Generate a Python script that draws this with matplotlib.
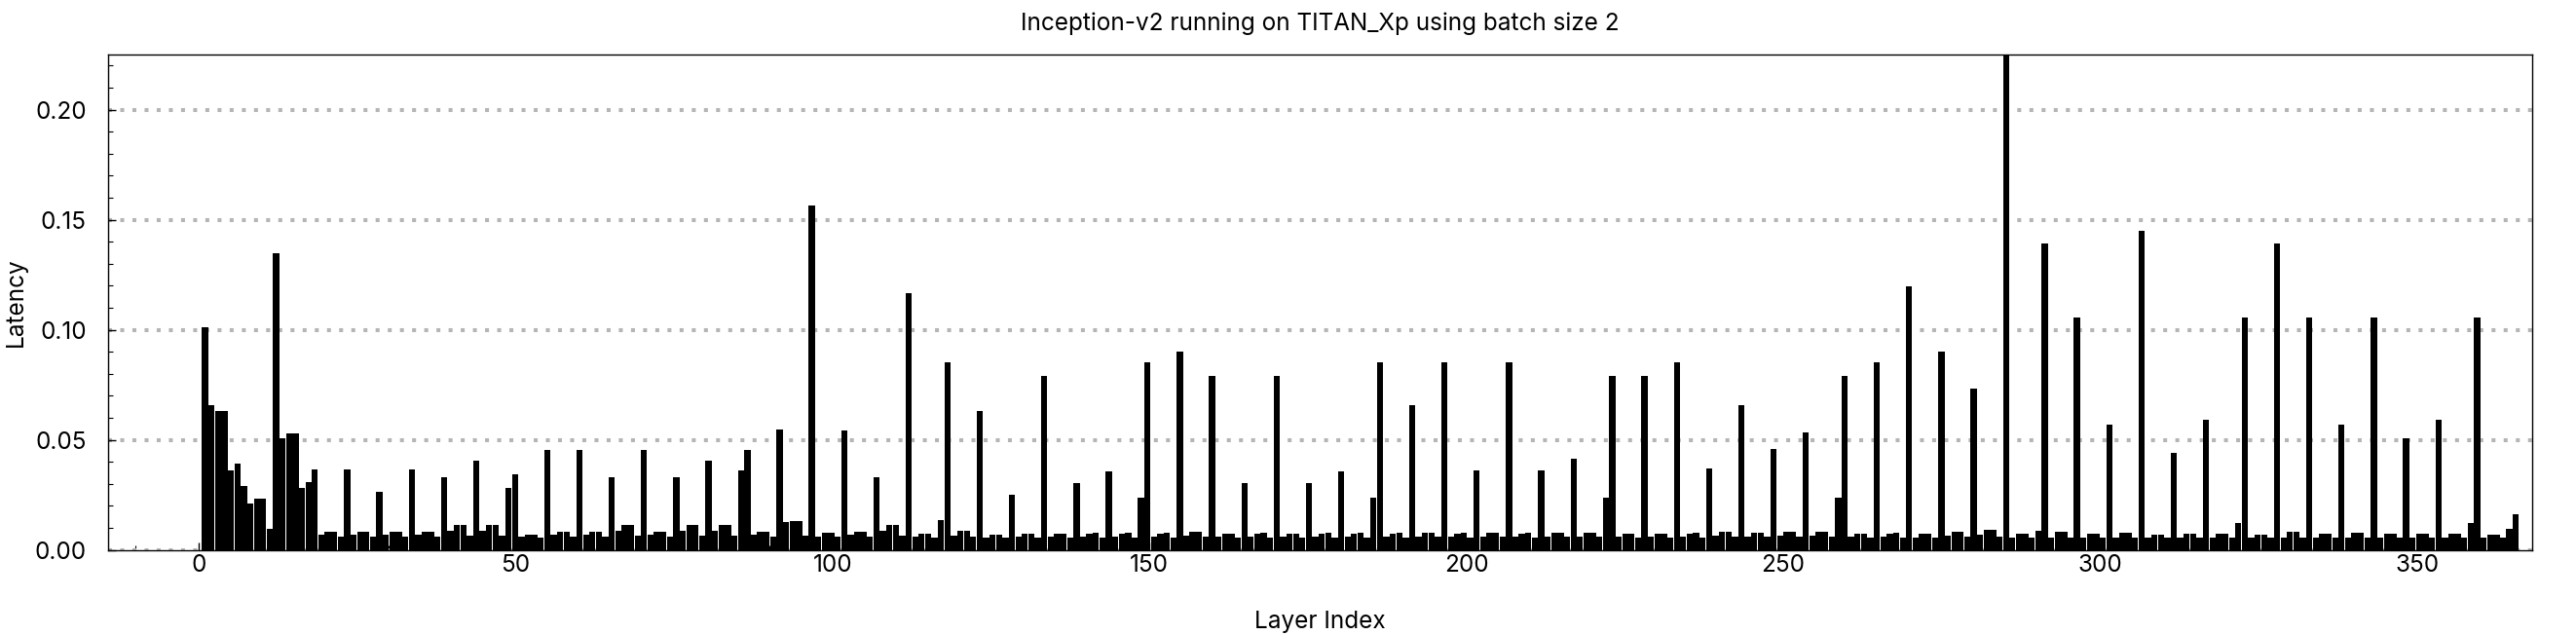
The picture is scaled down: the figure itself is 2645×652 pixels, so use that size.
import numpy as np
import matplotlib
matplotlib.use("Agg")
import matplotlib.pyplot as plt
from matplotlib.ticker import MultipleLocator, AutoMinorLocator

plt.rcParams['font.family'] = ['Inter', 'DejaVu Sans']

title = "Inception-v2 running on TITAN_Xp using batch size 2"

# latency per layer, layers 1..359
latency = [
    0.101, 0.0657, 0.0631, 0.0631, 0.0361, 0.0392, 0.029, 0.021, 0.0232, 0.0232,
    0.0094, 0.1347, 0.0506, 0.0529, 0.0529, 0.028, 0.0308, 0.0364, 0.0069, 0.0082,
    0.0082, 0.006, 0.0364, 0.0069, 0.0082, 0.0082, 0.006, 0.0264, 0.0069, 0.0082,
    0.0082, 0.006, 0.0364, 0.0069, 0.0082, 0.0082, 0.006, 0.0329, 0.0087, 0.0113,
    0.0113, 0.0064, 0.0405, 0.0087, 0.0113, 0.0113, 0.0064, 0.028, 0.0343, 0.006,
    0.0069, 0.0069, 0.0055, 0.0454, 0.0069, 0.0082, 0.0082, 0.006, 0.0454, 0.0069,
    0.0082, 0.0082, 0.006, 0.0329, 0.0087, 0.0113, 0.0113, 0.0064, 0.0454, 0.0069,
    0.0082, 0.0082, 0.006, 0.0329, 0.0087, 0.0113, 0.0113, 0.0064, 0.0405, 0.0087,
    0.0113, 0.0113, 0.0064, 0.0361, 0.0454, 0.0069, 0.0082, 0.0082, 0.006, 0.0547,
    0.0126, 0.0131, 0.0131, 0.0064, 0.1564, 0.006, 0.0078, 0.0078, 0.006, 0.0543,
    0.0069, 0.0082, 0.0082, 0.006, 0.0329, 0.0087, 0.0113, 0.0113, 0.0064, 0.1166,
    0.006, 0.0073, 0.0073, 0.0055, 0.0136, 0.0852, 0.0064, 0.0087, 0.0087, 0.006,
    0.0631, 0.0055, 0.0069, 0.0069, 0.0055, 0.025, 0.006, 0.0073, 0.0073, 0.0055,
    0.079, 0.006, 0.0073, 0.0073, 0.0055, 0.0303, 0.006, 0.0073, 0.0078, 0.0055,
    0.0357, 0.006, 0.0073, 0.0078, 0.0055, 0.0236, 0.0852, 0.006, 0.0073, 0.0078,
    0.0055, 0.0901, 0.0064, 0.0082, 0.0082, 0.006, 0.079, 0.006, 0.0073, 0.0073,
    0.0055, 0.0303, 0.006, 0.0073, 0.0078, 0.0055, 0.079, 0.006, 0.0073, 0.0073,
    0.0055, 0.0303, 0.006, 0.0073, 0.0078, 0.0055, 0.0357, 0.006, 0.0073, 0.0078,
    0.0055, 0.0236, 0.0852, 0.006, 0.0073, 0.0078, 0.0055, 0.0657, 0.006, 0.0078,
    0.0078, 0.006, 0.0852, 0.006, 0.0073, 0.0078, 0.0055, 0.0361, 0.006, 0.0078,
    0.0078, 0.006, 0.0852, 0.006, 0.0073, 0.0078, 0.0055, 0.0361, 0.006, 0.0078,
    0.0078, 0.006, 0.0413, 0.006, 0.0078, 0.0078, 0.006, 0.0236, 0.079, 0.006,
    0.0073, 0.0073, 0.0055, 0.079, 0.006, 0.0073, 0.0073, 0.0055, 0.0852, 0.006,
    0.0073, 0.0078, 0.0055, 0.0369, 0.0064, 0.0082, 0.0082, 0.006, 0.0657, 0.006,
    0.0078, 0.0078, 0.006, 0.0457, 0.0064, 0.0082, 0.0082, 0.006, 0.0533, 0.0064,
    0.0082, 0.0082, 0.006, 0.0236, 0.079, 0.006, 0.0073, 0.0073, 0.0055, 0.0852,
    0.006, 0.0073, 0.0078, 0.0055, 0.1196, 0.0055, 0.0073, 0.0073, 0.0055, 0.0901,
    0.0064, 0.0082, 0.0082, 0.006, 0.0732, 0.0069, 0.009, 0.009, 0.006, 0.24,
    0.0055, 0.0073, 0.0073, 0.0055, 0.0087, 0.1391, 0.0055, 0.0082, 0.0082, 0.0055,
    0.1055, 0.0055, 0.0073, 0.0073, 0.0055, 0.0568, 0.0055, 0.0078, 0.0078, 0.0055,
    0.1449, 0.0055, 0.0069, 0.0069, 0.0055, 0.044, 0.0055, 0.0073, 0.0073, 0.0055,
    0.0591, 0.0055, 0.0073, 0.0073, 0.0055, 0.0122, 0.1055, 0.0055, 0.0069, 0.0069,
    0.0055, 0.1391, 0.0055, 0.0082, 0.0082, 0.0055, 0.1055, 0.0055, 0.0073, 0.0073,
    0.0055, 0.0568, 0.0055, 0.0078, 0.0078, 0.0055, 0.1055, 0.0055, 0.0073, 0.0073,
    0.0055, 0.0506, 0.0055, 0.0073, 0.0073, 0.0055, 0.0591, 0.0055, 0.0073, 0.0073,
    0.0055, 0.0122, 0.1055, 0.0055, 0.0069, 0.0069, 0.0055, 0.0094, 0.0162,
]
layers = np.arange(1, len(latency) + 1)

# bar chart layout like the original tool: unit bars plus a small spacing
bar_spacing = 0.0185
xpos = 1 + (layers - 1) * (1 + bar_spacing)

fig = plt.figure(figsize=(26.45, 6.52), dpi=100)
ax = fig.add_axes([0.042, 0.134, 0.941, 0.780])

ax.bar(xpos, latency, width=0.97, color='black', linewidth=0, antialiased=False, zorder=2)

ax.set_xlim(-14.3, 368.2)
ax.set_ylim(0, 0.225)
ax.xaxis.set_major_locator(MultipleLocator(50))
ax.xaxis.set_minor_locator(AutoMinorLocator(5))
ax.yaxis.set_major_locator(MultipleLocator(0.05))
ax.yaxis.set_minor_locator(AutoMinorLocator(5))
ax.yaxis.set_major_formatter(matplotlib.ticker.FormatStrFormatter('%.2f'))

ax.tick_params(which='both', direction='in', labelsize=17.5)
ax.tick_params(which='major', length=6, width=1)
ax.tick_params(which='minor', length=3.5, width=0.8)
ax.tick_params(axis='y', which='major', pad=16)

ax.set_axisbelow(True)
ax.yaxis.grid(True, which='major', color='#b5b5b5', linewidth=2.9, linestyle=(0, (1, 2.1)))
for s in ax.spines.values():
    s.set_linewidth(1.0)

ax.set_xlabel("Layer Index", fontsize=17.5, labelpad=25)
ax.set_ylabel("Latency", fontsize=17.5, labelpad=6)
ax.set_title(title, fontsize=17.5, pad=18)

fig.savefig("out.png", dpi=100)
